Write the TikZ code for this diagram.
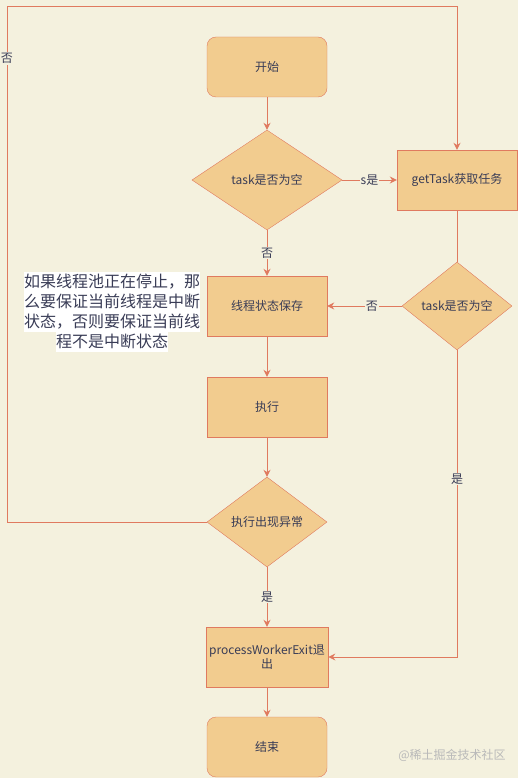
\documentclass[tikz,border=0pt]{standalone}
\usepackage{fontspec}
\newfontfamily\cjk{Noto Sans CJK SC}
\usetikzlibrary{shapes.geometric,arrows.meta}

\definecolor{paper}{HTML}{F4F1DE}
\definecolor{boxfill}{HTML}{F2CC8F}
\definecolor{boxline}{HTML}{E07A5F}
\definecolor{ink}{HTML}{393C56}
\newcommand{\hlline}[1]{{\setlength{\fboxsep}{0pt}\colorbox{white}{\rule[-4.5pt]{0pt}{20pt}#1}}}

\begin{document}
\begin{tikzpicture}[x=1pt,y=-1pt,>={Stealth[length=7pt,width=7pt]},
    every node/.style={font=\cjk\fontsize{12}{14}\selectfont,text=ink},
    startstop/.style={draw=boxline,fill=boxfill,rounded corners=9pt,
      minimum width=120pt,minimum height=60pt},
    procbox/.style={draw=boxline,fill=boxfill,align=center,
      minimum width=120pt,minimum height=60pt},
    decision/.style={diamond,draw=boxline,fill=boxfill,inner sep=0pt},
    flow/.style={->,draw=boxline,line width=1pt},
    link/.style={draw=boxline,line width=1pt},
    edgelbl/.style={fill=paper,inner sep=1pt}]
  \fill[paper] (0,0) rectangle (518,778);
  \useasboundingbox (0,0) rectangle (518,778);

  \node[startstop] (start) at (267,67) {开始};
  \node[decision,minimum width=150pt,minimum height=100pt] (empty1) at (267,180) {task是否为空};
  \node[procbox] (gettask) at (457,180) {getTask获取任务};
  \node[procbox] (keep) at (267,306) {线程状态保存};
  \node[decision,minimum width=110pt,minimum height=88pt] (empty2) at (457,306) {task是否为空};
  \node[procbox] (run) at (267,407) {执行};
  \node[decision,minimum width=120pt,minimum height=90pt] (exc) at (267,522) {执行出现异常};
  \node[procbox] (exit) at (267,657) {processWorkerExit退\\出};
  \node[startstop] (finish) at (267,747) {结束};
  \coordinate (corner) at (7,7);

  \node[align=center,inner sep=0pt,font=\cjk\fontsize{16}{20}\selectfont] (note) at (112,312)
    {\hlline{如果线程池正在停止，那}\\\hlline{么要保证当前线程是中断}\\
     \hlline{状态，否则要保证当前线}\\\hlline{程不是中断状态}};
  \node[text=gray!55] (mark) at (452,755) {@稀土掘金技术社区};

  \draw[flow] (start) -- (empty1);
  \draw[flow] (empty1) -- node[edgelbl] {s是} (gettask);
  \draw[flow] (empty1) -- node[edgelbl] {否} (keep);
  \draw[link] (gettask) -- (empty2);
  \draw[flow] (empty2) -- node[edgelbl,pos=0.4] {否} (keep);
  \draw[flow] (keep) -- (run);
  \draw[flow] (run) -- (exc);
  \draw[flow] (exc) -- node[edgelbl] {是} (exit);
  \draw[flow] (exit) -- (finish);
  \draw[flow] (empty2.south) |- node[edgelbl,pos=0.21] {是} (exit.east);
  \draw[flow] (exc.west) -| node[edgelbl,pos=0.95] {否} (corner) -| (gettask.north);
\end{tikzpicture}
\end{document}
